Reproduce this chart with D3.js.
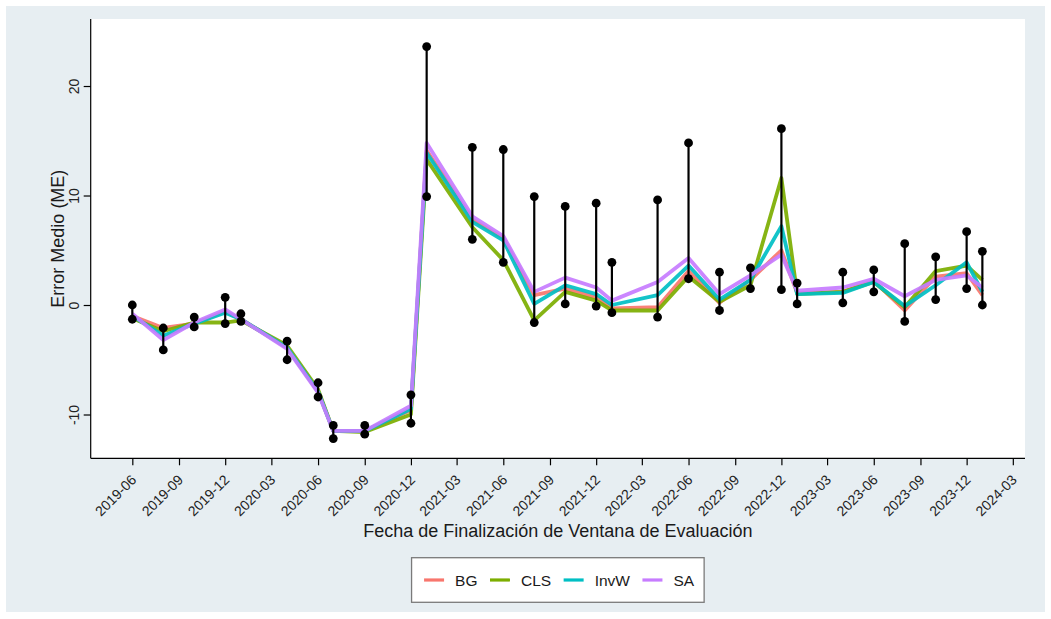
<!DOCTYPE html>
<html>
<head>
<meta charset="utf-8">
<script src="https://cdn.jsdelivr.net/npm/d3@7"></script>
<style>
  body { margin: 0; background: #ffffff; }
  svg text { font-family: "Liberation Sans", Arial, Helvetica, sans-serif; }
</style>
</head>
<body>
<svg id="chart" width="1051" height="619"></svg>
<script>
// Evaluation-window end dates (year-month)
const dates = ["2019-06","2019-08","2019-10","2019-12","2020-01","2020-04","2020-06","2020-07","2020-09","2020-12",
               "2021-01","2021-04","2021-06","2021-08","2021-10","2021-12","2022-01","2022-04","2022-06","2022-08",
               "2022-10","2022-12","2023-01","2023-04","2023-06","2023-08","2023-10","2023-12","2024-01"];

// Mean error (ME) for each combination method
const seriesBG   = [-1.0,-2.1,-1.7,-0.6,-1.3,-3.9,-7.9,-11.5,-11.5,-9.6,14.1,7.8,6.1,0.9,1.5,0.7,-0.3,-0.2,3.1,0.2,2.3,5.0,1.1,1.2,2.2,-0.5,2.6,2.9,0.9];
const seriesCLS  = [-1.2,-2.4,-1.6,-1.6,-1.4,-3.7,-7.7,-11.5,-11.6,-10.0,13.3,7.1,4.1,-1.4,1.2,0.4,-0.5,-0.5,2.6,0.3,1.8,11.6,1.0,1.2,2.1,-0.2,3.1,3.6,2.3];
const seriesInvW = [-1.0,-2.8,-1.7,-0.7,-1.3,-3.9,-7.9,-11.5,-11.5,-9.5,13.9,7.6,5.9,0.1,1.8,1.0,0.0,0.9,3.6,0.5,2.3,7.2,1.0,1.1,2.1,-0.1,1.8,3.9,1.2];
const seriesSA   = [-0.8,-3.2,-1.6,-0.4,-1.3,-4.0,-8.0,-11.5,-11.5,-9.2,14.8,8.1,6.3,1.2,2.5,1.6,0.4,2.1,4.3,1.0,2.7,4.6,1.3,1.6,2.4,0.8,2.3,2.7,1.6];

// Range of individual-model errors at each date (lower / upper ends)
const rangeLow  = [-1.3,-4.1,-2.0,-1.7,-1.5,-5.0,-8.4,-12.2,-11.8,-10.8,9.9,6.0,3.9,-1.6,0.1,-0.1,-0.7,-1.1,2.4,-0.5,1.5,1.4,0.1,0.2,1.2,-1.5,0.5,1.5,0.0];
const rangeHigh = [0.0,-2.1,-1.1,0.7,-0.8,-3.3,-7.1,-11.0,-11.0,-8.2,23.6,14.4,14.2,9.9,9.0,9.3,3.9,9.6,14.8,3.0,3.4,16.1,2.0,3.0,3.2,5.6,4.4,6.7,4.9];

const seriesNames  = ["BG","CLS","InvW","SA"];
const seriesColors = ["#F8766D","#7CAE00","#00BFC4","#C77CFF"];

// Axis ticks
const xTickLabels = ["2019-06","2019-09","2019-12","2020-03","2020-06","2020-09","2020-12","2021-03","2021-06","2021-09",
                     "2021-12","2022-03","2022-06","2022-09","2022-12","2023-03","2023-06","2023-09","2023-12","2024-03"];
const yTicks = [-10, 0, 10, 20];

const xTitle = "Fecha de Finalización de Ventana de Evaluación";
const yTitle = "Error Medio (ME)";

// ---------------------------------------------------------------
const W = 1051, H = 619;
const panel = { left: 90.7, right: 1025, top: 19, bottom: 458.3 };
const parse = d3.utcParse("%Y-%m");

const svg = d3.select("#chart");

// outer graph region
svg.append("rect")
  .attr("x", 6).attr("y", 6).attr("width", W - 12).attr("height", H - 13)
  .attr("fill", "#e7eef2");

// plot region
svg.append("rect")
  .attr("x", panel.left).attr("y", panel.top)
  .attr("width", panel.right - panel.left).attr("height", panel.bottom - panel.top)
  .attr("fill", "#ffffff");

const x = d3.scaleUtc()
  .domain([new Date(Date.UTC(2019, 2, 11)), new Date(Date.UTC(2024, 2, 25))])
  .range([panel.left, panel.right]);

const y = d3.scaleLinear()
  .domain([-14.0, 26.12])
  .range([panel.bottom, panel.top]);

// ---- axes
const xAxis = d3.axisBottom(x)
  .tickValues(xTickLabels.map(parse))
  .tickFormat(d3.utcFormat("%Y-%m"))
  .tickSize(7)
  .tickSizeOuter(0);

const gx = svg.append("g")
  .attr("transform", `translate(0,${panel.bottom})`)
  .call(xAxis);
gx.select(".domain").attr("stroke", "#000").attr("stroke-width", 1.2)
  .attr("d", `M${panel.left},0H${panel.right}`);
gx.selectAll(".tick line").attr("stroke", "#000").attr("stroke-width", 1.2);
gx.selectAll(".tick text")
  .attr("font-size", 14)
  .attr("fill", "#222")
  .attr("text-anchor", "end")
  .attr("x", 0).attr("y", 0).attr("dy", "0.35em")
  .attr("transform", "translate(1,19) rotate(-45)");

const yAxis = d3.axisLeft(y)
  .tickValues(yTicks)
  .tickFormat(d3.format("d"))
  .tickSize(7)
  .tickSizeOuter(0);

const gy = svg.append("g")
  .attr("transform", `translate(${panel.left},0)`)
  .call(yAxis);
gy.select(".domain").attr("stroke", "#000").attr("stroke-width", 1.2)
  .attr("d", `M0,${panel.top}V${panel.bottom}`);
gy.selectAll(".tick line").attr("stroke", "#000").attr("stroke-width", 1.2);
gy.selectAll(".tick text")
  .attr("font-size", 14)
  .attr("fill", "#222")
  .attr("text-anchor", "middle")
  .attr("x", 0).attr("y", -12).attr("dy", 0)
  .attr("transform", "rotate(-90)")
  .text(d => d3.format("d")(d).replace("−", "-"));

// ---- axis titles
svg.append("text")
  .attr("x", (panel.left + panel.right) / 2)
  .attr("y", 537)
  .attr("text-anchor", "middle")
  .attr("font-size", 18)
  .attr("fill", "#1a1a1a")
  .text(xTitle);

svg.append("text")
  .attr("transform", `translate(64,${(panel.top + panel.bottom) / 2}) rotate(-90)`)
  .attr("text-anchor", "middle")
  .attr("font-size", 18)
  .attr("fill", "#1a1a1a")
  .text(yTitle);

// ---- series lines
const allSeries = [seriesBG, seriesCLS, seriesInvW, seriesSA];
const line = d3.line()
  .x((d, i) => x(parse(dates[i])))
  .y(d => y(d));

const gLines = svg.append("g");
allSeries.forEach((vals, k) => {
  gLines.append("path")
    .datum(vals)
    .attr("fill", "none")
    .attr("stroke", seriesColors[k])
    .attr("stroke-width", 3.8)
    .attr("stroke-linejoin", "round")
    .attr("stroke-opacity", 0.92)
    .attr("d", line);
});

// ---- range bars with end dots
const ranges = dates.map((d, i) => ({ date: parse(d), lo: rangeLow[i], hi: rangeHigh[i] }));
const gRange = svg.append("g");
gRange.selectAll("line")
  .data(ranges)
  .join("line")
  .attr("x1", d => x(d.date)).attr("x2", d => x(d.date))
  .attr("y1", d => y(d.lo)).attr("y2", d => y(d.hi))
  .attr("stroke", "#000").attr("stroke-width", 2.2);

const ends = ranges.flatMap(d => [{ date: d.date, v: d.lo }, { date: d.date, v: d.hi }]);
gRange.selectAll("circle")
  .data(ends)
  .join("circle")
  .attr("cx", d => x(d.date))
  .attr("cy", d => y(d.v))
  .attr("r", 4.4)
  .attr("fill", "#000");

// ---- legend
const legend = svg.append("g");
const legendBox = legend.append("rect")
  .attr("fill", "#ffffff")
  .attr("stroke", "#7a7a7a")
  .attr("stroke-width", 1.3);

const swatchW = 20, swatchGap = 11, itemGap = 12.5, padL = 12.5, padR = 10;
let cursor = 0;
const items = legend.append("g");
seriesNames.forEach((name, k) => {
  const g = items.append("g").attr("transform", `translate(${cursor},0)`);
  g.append("line")
    .attr("x1", 0).attr("x2", swatchW)
    .attr("y1", 0).attr("y2", 0)
    .attr("stroke", seriesColors[k])
    .attr("stroke-width", 3.2);
  const t = g.append("text")
    .attr("x", swatchW + swatchGap)
    .attr("y", 0).attr("dy", "0.36em")
    .attr("font-size", 15.5)
    .attr("fill", "#1a1a1a")
    .text(name);
  cursor += swatchW + swatchGap + t.node().getComputedTextLength() + itemGap;
});
cursor -= itemGap;
const boxW = padL + cursor + padR, boxH = 44.6;
const boxX = (panel.left + panel.right) / 2 - boxW / 2, boxY = 557.7;
legendBox.attr("x", boxX).attr("y", boxY).attr("width", boxW).attr("height", boxH);
items.attr("transform", `translate(${boxX + padL},${boxY + boxH / 2})`);
</script>
</body>
</html>
